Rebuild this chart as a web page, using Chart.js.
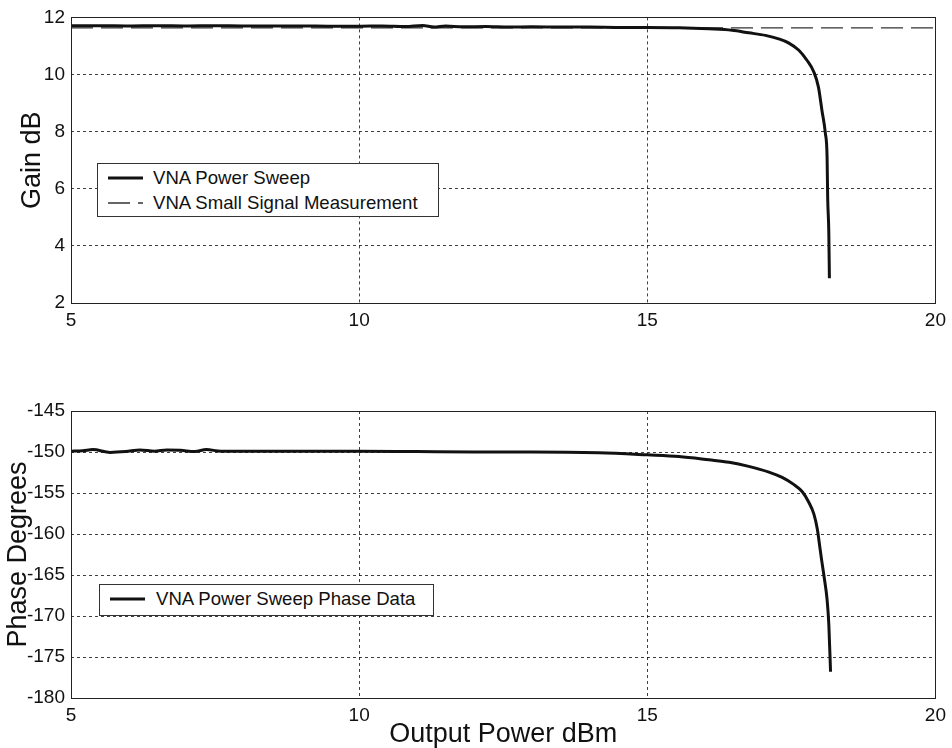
<!DOCTYPE html>
<html>
<head>
<meta charset="utf-8">
<script src="https://cdn.jsdelivr.net/npm/chart.js@4/dist/chart.umd.min.js"></script>
<style>
  body { margin: 0; background: #fff; width: 952px; height: 748px; overflow: hidden; font-family: "Liberation Sans", Arial, sans-serif; }
  .panel { position: absolute; left: 0; width: 952px; }
  #topPanel { top: 0; height: 340px; }
  #bottomPanel { top: 380px; height: 371px; }
  .legend { position: absolute; background: #fff; border: 1px solid #333; box-sizing: border-box; color: #111; font-size: 18.6px; }
  .legend .item { position: absolute; left: 0; height: 24px; line-height: 24px; white-space: nowrap; }
  .legend svg { position: absolute; top: 7px; }
  .legend span { position: absolute; }
</style>
</head>
<body>
<div class="panel" id="topPanel"><canvas id="gainChart"></canvas></div>
<div class="panel" id="bottomPanel"><canvas id="phaseChart"></canvas></div>
<div class="legend" id="gainLegend" style="left:97px; top:163px; width:342px; height:54px;"></div>
<div class="legend" id="phaseLegend" style="left:99px; top:584px; width:335px; height:32px;"></div>

<script>
// Gain vs output power (VNA power sweep)
const gainPower = [5.0, 5.5, 6.0, 6.5, 7.0, 7.5, 8.0, 8.5, 9.0, 9.5, 10.0, 10.4, 10.8, 11.1, 11.3, 11.5, 11.8, 12.2, 12.6, 13.0, 13.5, 14.0, 14.5, 15.0,
                   15.55, 16.07, 16.47, 16.76, 17.05, 17.28, 17.45, 17.63, 17.77, 17.89, 17.97, 18.03, 18.09, 18.12, 18.13, 18.15, 18.16];
const gainDb = [11.71, 11.71, 11.70, 11.71, 11.70, 11.71, 11.70, 11.70, 11.70, 11.69, 11.69, 11.70, 11.68, 11.72, 11.66, 11.70, 11.67, 11.68, 11.66, 11.67, 11.66, 11.66, 11.65, 11.65,
                11.64, 11.60, 11.55, 11.46, 11.37, 11.25, 11.11, 10.85, 10.50, 10.09, 9.56, 8.75, 7.94, 7.10, 5.71, 4.45, 2.87];

// Small signal gain (constant reference line)
const smallSignalPower = [5, 20];
const smallSignalDb = [11.63, 11.63];

// Phase vs output power
const phasePower = [5.0, 5.2, 5.38, 5.68, 5.95, 6.2, 6.45, 6.66, 6.9, 7.15, 7.35, 7.6, 8.0, 9.0, 10.0, 11.0, 12.0, 13.0, 14.16, 15.0,
                    15.55, 16.07, 16.42, 16.76, 17.11, 17.34, 17.54, 17.69, 17.8, 17.89, 17.95, 18.0, 18.03, 18.07, 18.12, 18.15, 18.18];
const phaseDeg = [-149.9, -149.85, -149.7, -150.05, -149.95, -149.75, -149.9, -149.75, -149.8, -149.95, -149.7, -149.9, -149.9, -149.9, -149.9, -149.95, -150.0, -150.0, -150.1, -150.35,
                  -150.55, -150.95, -151.25, -151.75, -152.45, -153.1, -153.95, -154.85, -156.1, -157.55, -159.4, -161.9, -163.4, -165.3, -168.0, -171.0, -176.8];

// axis ranges and tick steps
const xRange = [5, 20], xStep = 5;
const gainRange = [2, 12], gainStep = 2;
const phaseRange = [-180, -145], phaseStep = 5;

Chart.defaults.font.family = '"Liberation Sans", Arial, sans-serif';
Chart.defaults.color = '#111';

const toPoints = (xs, ys) => xs.map((x, i) => ({ x, y: ys[i] }));

// Draws the full frame around the plot area, like a MATLAB axes box
const boxPlugin = {
    id: 'box',
    afterDraw(chart) {
        const { ctx, chartArea: a } = chart;
        ctx.save();
        ctx.strokeStyle = '#222';
        ctx.lineWidth = 1;
        ctx.strokeRect(Math.round(a.left) + 0.5, Math.round(a.top) + 0.5, Math.round(a.right - a.left), Math.round(a.bottom - a.top));
        ctx.restore();
    }
};

function makeScales(yRange, yStep, yTitle, yTitlePad, xTitle, xHeight) {
    const grid = { color: 'rgba(0,0,0,0.75)', lineWidth: 1, drawTicks: false };
    const border = { display: false, dash: [3, 3] };
    return {
        x: {
            type: 'linear', min: xRange[0], max: xRange[1],
            grid, border,
            ticks: { stepSize: xStep, padding: 6, autoSkip: false, maxRotation: 0, font: { size: 19 }, color: '#111' },
            title: { display: !!xTitle, text: xTitle || '', font: { size: 27 }, color: '#111', padding: { top: 0, bottom: 0 } },
            afterFit(scale) { scale.height = xHeight; }
        },
        y: {
            min: yRange[0], max: yRange[1],
            grid, border,
            ticks: { stepSize: yStep, padding: 6, autoSkip: false, font: { size: 19 }, color: '#111' },
            title: { display: true, text: yTitle, font: { size: 27 }, color: '#111', padding: { top: yTitlePad, bottom: 0 } },
            afterFit(scale) { scale.width = 71; }
        }
    };
}

const gainChart = new Chart(document.getElementById('gainChart'), {
    type: 'line',
    data: {
        datasets: [{
            label: 'VNA Power Sweep',
            data: toPoints(gainPower, gainDb),
            borderColor: '#111',
            borderWidth: 3,
            pointRadius: 0,
            cubicInterpolationMode: 'monotone'
        }, {
            label: 'VNA Small Signal Measurement',
            data: toPoints(smallSignalPower, smallSignalDb),
            borderColor: '#333',
            borderWidth: 1.3,
            borderDash: [22, 8],
            pointRadius: 0
        }]
    },
    options: {
        responsive: true,
        maintainAspectRatio: false,
        animation: false,
        layout: { padding: { top: 17, right: 15, left: 0, bottom: 0 } },
        plugins: { legend: { display: false }, tooltip: { enabled: false } },
        scales: makeScales(gainRange, gainStep, 'Gain dB', 16, null, 37)
    },
    plugins: [boxPlugin]
});

const phaseChart = new Chart(document.getElementById('phaseChart'), {
    type: 'line',
    data: {
        datasets: [{
            label: 'VNA Power Sweep Phase Data',
            data: toPoints(phasePower, phaseDeg),
            borderColor: '#111',
            borderWidth: 3,
            pointRadius: 0,
            cubicInterpolationMode: 'monotone'
        }]
    },
    options: {
        responsive: true,
        maintainAspectRatio: false,
        animation: false,
        layout: { padding: { top: 31, right: 15, left: 0, bottom: 0 } },
        plugins: { legend: { display: false }, tooltip: { enabled: false } },
        scales: makeScales(phaseRange, phaseStep, 'Phase Degrees', 2, 'Output Power dBm', 53)
    },
    plugins: [boxPlugin]
});

// HTML legend built from the chart datasets
function buildLegend(chart, el, firstCenter, textLeft, sampleLeft) {
    chart.data.datasets.forEach((ds, i) => {
        const item = document.createElement('div');
        item.className = 'item';
        item.style.top = (firstCenter - 12 + i * 25) + 'px';
        item.style.width = '100%';
        const dash = ds.borderDash ? ds.borderDash.join(',') : 'none';
        item.innerHTML =
            `<svg width="36" height="10" style="left:${sampleLeft}px"><line x1="0" y1="5" x2="35" y2="5" stroke="${ds.borderColor}" stroke-width="${ds.borderWidth}" stroke-dasharray="${dash}"/></svg>` +
            `<span style="left:${textLeft}px">${ds.label}</span>`;
        el.appendChild(item);
    });
}
buildLegend(gainChart, document.getElementById('gainLegend'), 14, 55, 10);
buildLegend(phaseChart, document.getElementById('phaseLegend'), 14, 56, 10);
</script>
</body>
</html>
